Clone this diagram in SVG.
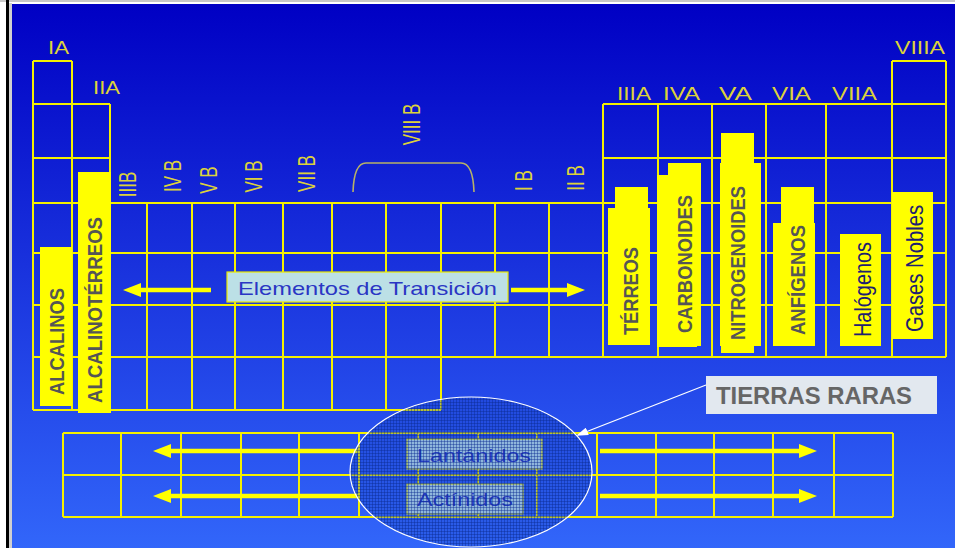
<svg xmlns="http://www.w3.org/2000/svg" width="955" height="548" viewBox="0 0 955 548">
<defs>
  <linearGradient id="bg" x1="0" y1="0" x2="0" y2="1">
    <stop offset="0" stop-color="#0000C4"/>
    <stop offset="0.5" stop-color="#1A34DE"/>
    <stop offset="1" stop-color="#3266FA"/>
  </linearGradient>
  <pattern id="mesh" width="3" height="3" patternUnits="userSpaceOnUse">
    <rect width="3" height="3" fill="#1846c0" fill-opacity="0.28"/>
    <rect width="3" height="1" fill="#0a2890" fill-opacity="0.42"/>
    <rect width="1" height="3" fill="#0a2890" fill-opacity="0.42"/>
  </pattern>
  <marker id="yhead" markerUnits="userSpaceOnUse" markerWidth="18" markerHeight="14" refX="6" refY="7" orient="auto">
    <path d="M0,0 L18,7 L0,14 z" fill="#FFFF00"/>
  </marker>
  <marker id="whead" markerUnits="userSpaceOnUse" markerWidth="12" markerHeight="8" refX="10" refY="4" orient="auto">
    <path d="M0,0 L12,4 L0,8 z" fill="#FFFFFF"/>
  </marker>
  <style>
    .grid{fill:none;stroke:#F4F000;stroke-width:2}
    .grp{font-family:"Liberation Sans",Arial,sans-serif;font-size:18px;fill:#DDD23A}
    .grpb{font-family:"Liberation Sans",Arial,sans-serif;font-size:17px;fill:#DDD23A;text-anchor:middle}
    .ybox{fill:#FFFF00}
    .blab{font-family:"Liberation Sans",Arial,sans-serif;font-size:20px;font-weight:bold;fill:#555555}
    .nlab{font-family:"Liberation Sans",Arial,sans-serif;font-size:24px;fill:#1E2070}
    .cbox{fill:#BCE0E6;stroke:#E8E800;stroke-width:1.2}
    .ctext{font-family:"Liberation Sans",Arial,sans-serif;font-size:19px;fill:#2A36C4}
    .yarrow{fill:none;stroke:#FFFF00;stroke-width:4.5;marker-end:url(#yhead)}
  </style>
</defs>

<!-- frame and background -->
<rect x="0" y="0" width="955" height="548" fill="#FFFFFF"/>
<rect x="0" y="0" width="955" height="2" fill="#C8C8C8"/>
<rect x="6" y="0" width="3" height="548" fill="#000000"/>
<rect x="9" y="3" width="3" height="545" fill="#D0D0D0"/>
<rect x="12" y="4" width="943" height="544" fill="url(#bg)"/>

<!-- main periodic table grid -->
<g id="main-grid">
  <path class="grid" d="M33 61H72 M892 61H946 M33 104H110 M603 104H946 M33 158H110 M603 158H946 M33 203H946 M33 253H946 M33 305H946 M33 357H946 M33 410H441
  M33 61V410 M72 61V410 M110 104V410 M147 203V410 M192 203V410 M235 203V410 M283 203V410 M332 203V410 M386 203V410 M441 203V410 M495 203V357 M549 203V357 M603 104V357 M658 104V357 M712 104V357 M766 104V357 M826 104V357 M892 61V357 M946 61V357"/>
</g>

<!-- lanthanide / actinide grid -->
<g id="f-grid">
  <path class="grid" d="M63 433H893 M63 475H893 M63 517H893
  M63 433V517 M121 433V517 M181 433V517 M241 433V517 M299 433V517 M359 433V517 M418 433V517 M478 433V517 M537 433V517 M597 433V517 M656 433V517 M714 433V517 M773 433V517 M834 433V517 M893 433V517"/>
</g>

<!-- group labels A -->
<g id="group-labels-a">
  <text class="grp" x="48" y="54" textLength="21" lengthAdjust="spacingAndGlyphs">IA</text>
  <text class="grp" x="93" y="94" textLength="27" lengthAdjust="spacingAndGlyphs">IIA</text>
  <text class="grp" x="617" y="100" textLength="34" lengthAdjust="spacingAndGlyphs">IIIA</text>
  <text class="grp" x="663" y="100" textLength="37" lengthAdjust="spacingAndGlyphs">IVA</text>
  <text class="grp" x="719" y="100" textLength="33" lengthAdjust="spacingAndGlyphs">VA</text>
  <text class="grp" x="772" y="100" textLength="39" lengthAdjust="spacingAndGlyphs">VIA</text>
  <text class="grp" x="832" y="100" textLength="45" lengthAdjust="spacingAndGlyphs">VIIA</text>
  <text class="grp" x="895" y="54" textLength="50" lengthAdjust="spacingAndGlyphs">VIIIA</text>
</g>

<!-- group labels B -->
<g id="group-labels-b">
  <text class="grpb" transform="translate(135.5,184.5) rotate(-90) scale(1,1.4)">IIIB</text>
  <text class="grpb" transform="translate(180.5,176) rotate(-90) scale(1,1.4)">IV B</text>
  <text class="grpb" transform="translate(216.5,180) rotate(-90) scale(1,1.4)">V B</text>
  <text class="grpb" transform="translate(261.5,176.5) rotate(-90) scale(1,1.4)">VI B</text>
  <text class="grpb" transform="translate(314.5,173.5) rotate(-90) scale(1,1.4)">VII B</text>
  <text class="grpb" transform="translate(419.5,124.5) rotate(-90) scale(1,1.4)">VIII B</text>
  <text class="grpb" transform="translate(531.5,180.5) rotate(-90) scale(1,1.4)">I B</text>
  <text class="grpb" transform="translate(583.5,178) rotate(-90) scale(1,1.4)">II B</text>
  <path d="M353 192 Q354 163 366 163 H461 Q473 163 474 192" fill="none" stroke="#B8B266" stroke-width="1.6"/>
</g>

<!-- family label nodes -->
<g id="alcalinos">
  <rect class="ybox" x="40" y="247" width="32" height="159"/>
  <text class="blab" transform="translate(64,395) rotate(-90)" textLength="107" lengthAdjust="spacingAndGlyphs">ALCALINOS</text>
</g>
<g id="alcalinoterreos">
  <rect class="ybox" x="78" y="172" width="33" height="241"/>
  <text class="blab" transform="translate(101.5,403) rotate(-90)" textLength="186" lengthAdjust="spacingAndGlyphs">ALCALINOTÉRREOS</text>
</g>
<g id="terreos">
  <rect class="ybox" x="608" y="208" width="42" height="137"/>
  <rect class="ybox" x="615" y="187" width="33" height="158"/>
  <text class="blab" transform="translate(638,335) rotate(-90)" textLength="88" lengthAdjust="spacingAndGlyphs">TÉRREOS</text>
</g>
<g id="carbonoides">
  <rect class="ybox" x="657" y="175" width="40" height="172"/>
  <rect class="ybox" x="668" y="163" width="33" height="183"/>
  <text class="blab" transform="translate(692,333) rotate(-90)" textLength="138" lengthAdjust="spacingAndGlyphs">CARBONOIDES</text>
</g>
<g id="nitrogenoides">
  <rect class="ybox" x="720" y="163" width="41" height="183"/>
  <rect class="ybox" x="721" y="133" width="33" height="220"/>
  <text class="blab" transform="translate(745,340) rotate(-90)" textLength="154" lengthAdjust="spacingAndGlyphs">NITROGENOIDES</text>
</g>
<g id="anfigenos">
  <rect class="ybox" x="773" y="223" width="42" height="123"/>
  <rect class="ybox" x="781" y="187" width="33" height="159"/>
  <text class="blab" transform="translate(805,335) rotate(-90)" textLength="110" lengthAdjust="spacingAndGlyphs">ANFÍGENOS</text>
</g>
<g id="halogenos">
  <rect class="ybox" x="840" y="234" width="41" height="112"/>
  <text class="nlab" transform="translate(871,337) rotate(-90)" textLength="95" lengthAdjust="spacingAndGlyphs">Halógenos</text>
</g>
<g id="gases-nobles">
  <rect class="ybox" x="892" y="192" width="41" height="147"/>
  <text class="nlab" transform="translate(923,332) rotate(-90)" textLength="127" lengthAdjust="spacingAndGlyphs">Gases Nobles</text>
</g>

<!-- connectors -->
<g id="connectors">
  <line class="yarrow" x1="211" y1="290" x2="135" y2="290"/>
  <line class="yarrow" x1="511" y1="290" x2="573" y2="290"/>
  <line class="yarrow" x1="359" y1="451" x2="165" y2="451"/>
  <line class="yarrow" x1="359" y1="496" x2="165" y2="496"/>
  <line class="yarrow" x1="600" y1="451" x2="805" y2="451"/>
  <line class="yarrow" x1="600" y1="496" x2="805" y2="496"/>
  <line x1="706" y1="385" x2="578" y2="435" stroke="#FFFFFF" stroke-width="1.3" marker-end="url(#whead)"/>
</g>

<g id="transicion">
  <rect class="cbox" x="227" y="272" width="281" height="30"/>
  <text class="ctext" x="238" y="295" textLength="259" lengthAdjust="spacingAndGlyphs">Elementos de Transición</text>
</g>

<g id="lantanidos">
  <rect class="cbox" x="407" y="439" width="135" height="30"/>
  <text class="ctext" x="417" y="462" textLength="114" lengthAdjust="spacingAndGlyphs">Lantánidos</text>
</g>
<g id="actinidos">
  <rect class="cbox" x="407" y="484" width="116" height="30"/>
  <text class="ctext" x="417" y="506" textLength="96" lengthAdjust="spacingAndGlyphs">Actínidos</text>
</g>

<g id="tierras-raras-zone">
  <ellipse cx="471" cy="472" rx="121" ry="75" fill="url(#mesh)"/>
  <ellipse cx="471" cy="472" rx="121" ry="75" fill="none" stroke="#FFFFFF" stroke-width="1.2"/>
</g>

<g id="tierras-raras">
  <rect x="706" y="376" width="231" height="38" fill="#E2E8EF"/>
  <text x="716" y="404" font-family="Liberation Sans, Arial, sans-serif" font-size="24" font-weight="bold" fill="#666666" textLength="196" lengthAdjust="spacingAndGlyphs">TIERRAS RARAS</text>
</g>
</svg>
